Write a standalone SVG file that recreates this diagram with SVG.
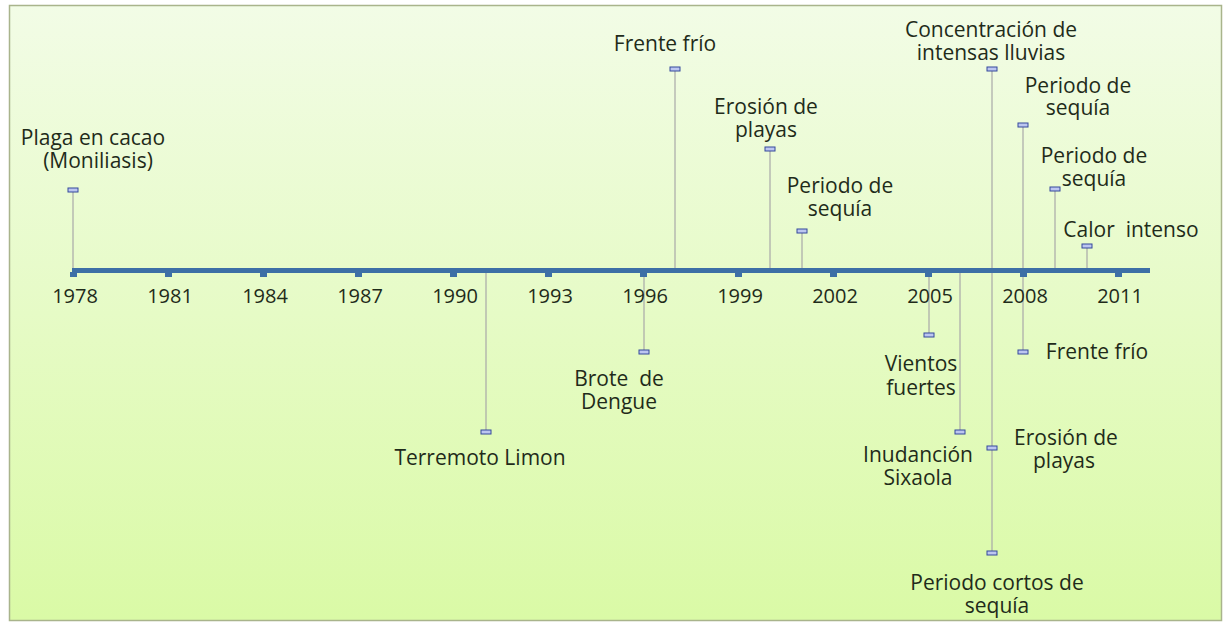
<svg xmlns="http://www.w3.org/2000/svg" width="1225" height="624" viewBox="0 0 1225 624">
<defs>
<linearGradient id="bg" x1="0" y1="0" x2="0" y2="1">
<stop offset="0" stop-color="#f2fce6"/>
<stop offset="1" stop-color="#dafaa6"/>
</linearGradient>
<style>
text{font-family:"Open Sans","Liberation Sans",sans-serif;font-size:21px;fill:#1f2b1a;text-anchor:middle}
.yr{font-size:20px}
.st{stroke:#a8a8a8;stroke-width:1.2;fill:none}
.mk{fill:#bcc6f0;stroke:#34499c;stroke-width:1}
.tk{fill:#3d6fa6}
</style>
</defs>
<rect x="0" y="0" width="1225" height="624" fill="#ffffff"/>
<rect x="9.5" y="5.5" width="1212" height="615" fill="url(#bg)" stroke="#a9b48c" stroke-width="1.5"/>
<g id="connectors">
<line class="st" x1="73" y1="190" x2="73" y2="270"/>
<line class="st" x1="486" y1="270" x2="486" y2="432"/>
<line class="st" x1="644" y1="270" x2="644" y2="352"/>
<line class="st" x1="675" y1="69" x2="675" y2="270"/>
<line class="st" x1="770" y1="149" x2="770" y2="270"/>
<line class="st" x1="802" y1="231" x2="802" y2="270"/>
<line class="st" x1="929" y1="270" x2="929" y2="335"/>
<line class="st" x1="960" y1="270" x2="960" y2="432"/>
<line class="st" x1="992" y1="69" x2="992" y2="553"/>
<line class="st" x1="1023" y1="125" x2="1023" y2="352"/>
<line class="st" x1="1055" y1="189" x2="1055" y2="270"/>
<line class="st" x1="1087" y1="246" x2="1087" y2="270"/>
</g>
<g id="axis">
<rect class="tk" x="72" y="268" width="1078" height="5"/>
<rect class="tk" x="70" y="272" width="7" height="5"/>
<rect class="tk" x="165" y="272" width="7" height="5"/>
<rect class="tk" x="260" y="272" width="7" height="5"/>
<rect class="tk" x="355" y="272" width="7" height="5"/>
<rect class="tk" x="450" y="272" width="7" height="5"/>
<rect class="tk" x="545" y="272" width="7" height="5"/>
<rect class="tk" x="640" y="272" width="7" height="5"/>
<rect class="tk" x="735" y="272" width="7" height="5"/>
<rect class="tk" x="830" y="272" width="7" height="5"/>
<rect class="tk" x="925" y="272" width="7" height="5"/>
<rect class="tk" x="1020" y="272" width="7" height="5"/>
<rect class="tk" x="1115" y="272" width="7" height="5"/>
<text class="yr" x="75" y="303">1978</text>
<text class="yr" x="170" y="303">1981</text>
<text class="yr" x="265" y="303">1984</text>
<text class="yr" x="360" y="303">1987</text>
<text class="yr" x="455" y="303">1990</text>
<text class="yr" x="550" y="303">1993</text>
<text class="yr" x="645" y="303">1996</text>
<text class="yr" x="740" y="303">1999</text>
<text class="yr" x="835" y="303">2002</text>
<text class="yr" x="930" y="303">2005</text>
<text class="yr" x="1025" y="303">2008</text>
<text class="yr" x="1120" y="303">2011</text>
</g>
<g id="ev-plaga">
<rect class="mk" x="68" y="188" width="10" height="4"/>
<text x="93" y="145">Plaga en cacao</text>
<text x="98" y="168">(Moniliasis)</text>
</g>
<g id="ev-terremoto">
<rect class="mk" x="481" y="430" width="10" height="4"/>
<text x="480" y="465">Terremoto Limon</text>
</g>
<g id="ev-dengue">
<rect class="mk" x="639" y="350" width="10" height="4"/>
<text x="619" y="386" xml:space="preserve">Brote  de</text>
<text x="619" y="409">Dengue</text>
</g>
<g id="ev-frente1">
<rect class="mk" x="670" y="67" width="10" height="4"/>
<text x="665" y="51">Frente frío</text>
</g>
<g id="ev-erosion1">
<rect class="mk" x="765" y="147" width="10" height="4"/>
<text x="766" y="114">Erosión de</text>
<text x="766" y="137">playas</text>
</g>
<g id="ev-sequia1">
<rect class="mk" x="797" y="229" width="10" height="4"/>
<text x="840" y="193">Periodo de</text>
<text x="840" y="216">sequía</text>
</g>
<g id="ev-vientos">
<rect class="mk" x="924" y="333" width="10" height="4"/>
<text x="921" y="371">Vientos</text>
<text x="921" y="395">fuertes</text>
</g>
<g id="ev-inundacion">
<rect class="mk" x="955" y="430" width="10" height="4"/>
<text x="918" y="462">Inudanción</text>
<text x="918" y="485">Sixaola</text>
</g>
<g id="ev-lluvias">
<rect class="mk" x="987" y="67" width="10" height="4"/>
<text x="991" y="37">Concentración de</text>
<text x="991" y="60">intensas lluvias</text>
</g>
<g id="ev-erosion2">
<rect class="mk" x="987" y="446" width="10" height="4"/>
<text x="1066" y="445">Erosión de</text>
<text x="1064" y="468">playas</text>
</g>
<g id="ev-cortos">
<rect class="mk" x="987" y="551" width="10" height="4"/>
<text x="997" y="590">Periodo cortos de</text>
<text x="997" y="613">sequía</text>
</g>
<g id="ev-sequia2">
<rect class="mk" x="1018" y="123" width="10" height="4"/>
<text x="1078" y="93">Periodo de</text>
<text x="1078" y="115">sequía</text>
</g>
<g id="ev-frente2">
<rect class="mk" x="1018" y="350" width="10" height="4"/>
<text x="1097" y="359">Frente frío</text>
</g>
<g id="ev-sequia3">
<rect class="mk" x="1050" y="187" width="10" height="4"/>
<text x="1094" y="163">Periodo de</text>
<text x="1094" y="186">sequía</text>
</g>
<g id="ev-calor">
<rect class="mk" x="1082" y="244" width="10" height="4"/>
<text x="1131" y="237" xml:space="preserve">Calor  intenso</text>
</g>
</svg>
